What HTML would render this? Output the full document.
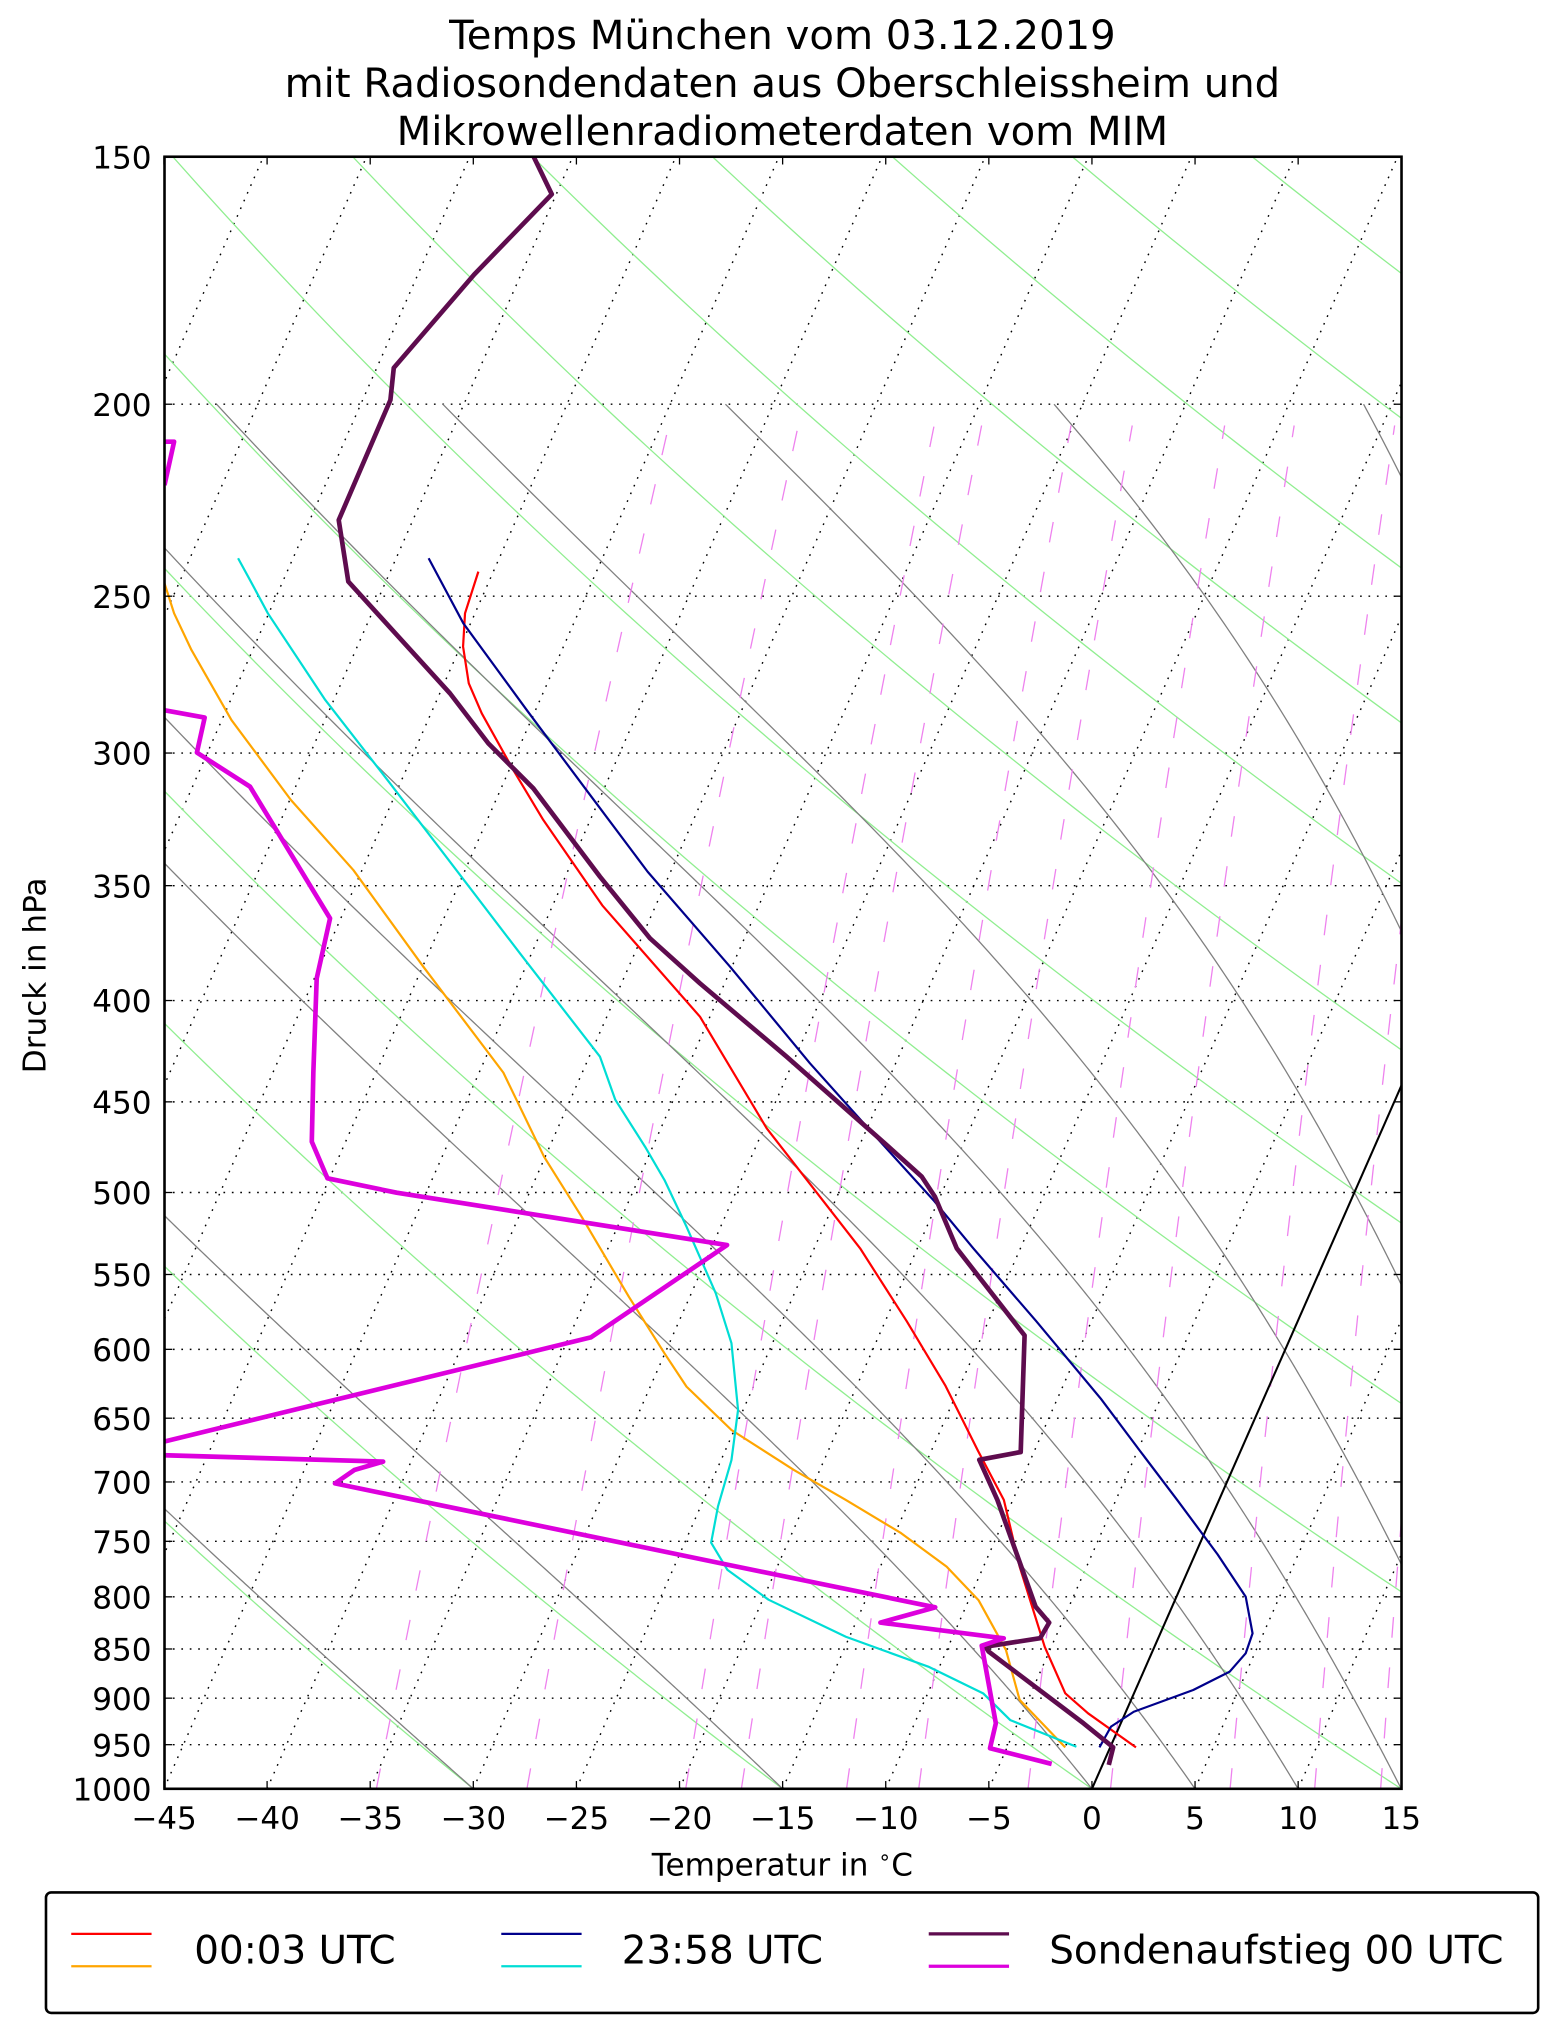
<!DOCTYPE html>
<html><head><meta charset="utf-8">
<style>
html,body{margin:0;padding:0;background:#fff;}
svg{display:block;}
text{font-family:"DejaVu Sans","Liberation Sans",sans-serif;fill:#000;}
</style></head>
<body>
<svg id="s" width="1542" height="2032" viewBox="0 0 1190.45 1568.75" xmlns="http://www.w3.org/2000/svg">
<defs><clipPath id="c"><rect x="127" y="121" width="955" height="1260"/></clipPath></defs>
<rect width="1190.45" height="1568.75" fill="#fff"/>
<g id="bg" clip-path="url(#c)"></g>
<g clip-path="url(#c)" fill="none" stroke-linejoin="round" stroke-linecap="butt">
<line x1="843" y1="1381" x2="1100" y2="797" stroke="#000" stroke-width="1.6"/>
<polyline stroke="#ffa500" stroke-width="1.7" points="120,440 127,450.3 134.4,473.5 147.8,501.8 178.7,555.9 224.6,617.6 272.8,671.7 326.8,746.3 388.6,828.1 420,893 449,939.3 485.4,1001 513,1044.8 530,1070.5 564.7,1104 613,1134.9 653,1158 695.6,1183.6 730.8,1209.5 755.4,1235.3 776.6,1273.8 787.2,1312.4 822.4,1349"/>
<polyline stroke="#00ddd5" stroke-width="1.7" points="183.8,431 193,447.8 206.8,473.5 251.1,540.4 301.1,604.7 401.4,736 463.2,815.8 475,849 498,885.3 513,911 530,947 552.6,998.5 564.7,1037 569.8,1088.5 564.7,1127.2 554.3,1163 549,1191 561.6,1212 593.3,1235 653,1263.6 716.7,1286.7 759,1307.3 780,1328 831,1348.5"/>
<polyline stroke="#ff0000" stroke-width="1.7" points="369.3,441.3 359,473.5 357.5,499.2 361.9,527.5 371.9,550.7 396.3,594.5 419.4,633 465,699 540.4,784.9 591.9,871.1 664,963.7 700,1020 730,1070 755,1120 775,1158 787.2,1209.5 806.5,1271.3 822.4,1307.3 840,1322.7 877,1349"/>
<polyline stroke="#00008b" stroke-width="1.7" points="330.9,431 357.7,481.2 406.6,548.1 452,609 500,673 563.6,746.3 625.3,820.9 669.1,869.8 720.5,926.4 751.4,963.7 800,1020 850,1080 880,1120 908.8,1158 940,1200 961.7,1232.7 967,1261 961.7,1276.4 949.4,1290.5 921.2,1304.7 875.3,1321.5 857.7,1333 848.8,1349"/>
<polyline stroke="#5e0c4e" stroke-width="3.6" points="412,121 426,150 366,212 304,284 301.4,308.8 261.5,401.5 268.9,449 347.4,535.3 377,573.9 411.7,608.6 463.2,676.8 501.8,724.4 540.4,759.2 607.3,815.8 684.5,884 711.6,908.4 721.8,923.9 738.6,963.7 791,1031 788,1121 756,1127 770,1158 799.5,1240.4 810,1252.7 803,1264.7 760.8,1271.3 763.2,1275 836.6,1330.5 859.4,1349 856,1362.6"/>
<polyline stroke="#dd00dd" stroke-width="3.6" points="127,341 134.4,341 127,374.5"/>
<polyline stroke="#dd00dd" stroke-width="3.6" points="120,547 158,554 152,581 193,607.3 254.8,709 244.5,755.3 241.9,828.1 240.7,881.4 252.8,909.7 306.2,920.8 561.3,961.2 456.1,1032.5 110,1117"/>
<polyline stroke="#dd00dd" stroke-width="3.6" points="110,1123 295.8,1128.4 273.5,1134.9 258.6,1145.2 540.4,1203.6 722,1240.9 679.7,1252.7 774.9,1264.8 757.9,1270.5 768.8,1330.4 764.3,1349.7 811.9,1361.8"/>
</g>
<rect x="127" y="121" width="955" height="1260" fill="none" stroke="#000" stroke-width="2"/>
<g id="ticks" stroke="#000" stroke-width="1"></g>
<g font-size="31" text-anchor="middle">
<text x="604" y="38">Temps München vom 03.12.2019</text>
<text x="604" y="75">mit Radiosondendaten aus Oberschleissheim und</text>
<text x="604" y="112">Mikrowellenradiometerdaten vom MIM</text>
</g>
<g id="lab" font-size="24"></g>
<text x="604" y="1448" font-size="24" text-anchor="middle">Temperatur in <tspan font-size="16" dy="-9">∘</tspan><tspan dy="9">C</tspan></text>
<text transform="translate(35,753) rotate(-90)" font-size="24" text-anchor="middle">Druck in hPa</text>
<rect x="35.5" y="1461" width="1152" height="93" rx="4" fill="#fff" stroke="#000" stroke-width="2"/>
<g stroke-width="1.7">
<line x1="55" y1="1493" x2="117" y2="1493" stroke="#ff0000"/>
<line x1="55" y1="1518" x2="117" y2="1518" stroke="#ffa500"/>
<line x1="387" y1="1493" x2="449" y2="1493" stroke="#00008b"/>
<line x1="387" y1="1518" x2="449" y2="1518" stroke="#00ddd5"/>
<line x1="717" y1="1493" x2="779" y2="1493" stroke="#5e0c4e" stroke-width="2.5"/>
<line x1="717" y1="1518" x2="779" y2="1518" stroke="#dd00dd" stroke-width="2.5"/>
</g>
<g font-size="30">
<text x="150" y="1516">00:03 UTC</text>
<text x="480" y="1516">23:58 UTC</text>
<text x="810" y="1516">Sondenaufstieg 00 UTC</text>
</g>
</svg>
<script>
(function(){
var NS="http://www.w3.org/2000/svg";
var X0=843,K=15.92,S=0.44,YB=1381,YT=121,L=Math.log(1000/150);
function yP(p){return YT+1260*Math.log(p/150)/L;}
function xT(T,y){return X0+K*T+S*(YB-y);}
var bg=document.getElementById('bg');
function pl(pts,attrs,parent){var e=document.createElementNS(NS,'polyline');e.setAttribute('points',pts.map(function(a){return a[0].toFixed(2)+','+a[1].toFixed(2)}).join(' '));e.setAttribute('fill','none');for(var k in attrs)e.setAttribute(k,attrs[k]);(parent||bg).appendChild(e);}
for(var T=-130;T<=15;T+=5){pl([[xT(T,YB),YB],[xT(T,YT),YT]],{stroke:'#000','stroke-width':1.1,'stroke-dasharray':'1.3 5.2'});}
for(var p=200;p<1000;p+=50){var y=yP(p);pl([[127,y],[1082,y]],{stroke:'#000','stroke-width':1.1,'stroke-dasharray':'1.3 5.2'});}
for(var T0=-90;T0<=180;T0+=15){var th=T0+273.15,pts=[];for(var p=1000;p>=145;p-=5){var t=th*Math.pow(p/1000,0.2857)-273.15;var y=yP(p);pts.push([xT(t,y),y]);}pl(pts,{stroke:'#90ee90','stroke-width':1});}
function es(Tc){return 6.112*Math.exp(17.67*Tc/(Tc+243.5));}
var Rd=287.04,Cp=1005.7,Lv=2.501e6,eps=0.622;
[-45,-30,-15,0,5,10,15,20,25,30,35,40].forEach(function(T0){var T=T0+273.15,pts=[],p=1000;pts.push([xT(T0,yP(1000)),yP(1000)]);
while(p>200){var dp=-2;var e=es(T-273.15);var rs=eps*e/(p-e);var dTdp=(Rd*T+Lv*rs)/(p*(Cp+Lv*Lv*rs*eps/(Rd*T*T)));T+=dTdp*dp;p+=dp;var y=yP(p);pts.push([xT(T-273.15,y),y]);}
pl(pts,{stroke:'#808080','stroke-width':1});});
[-34.7,-27.4,-19.7,-17.0,-11.9,-8.4,-3.1,0.9,6.7,10.8,14.0].forEach(function(T0){var e0=es(T0),w=eps*e0/(1000-e0),pts=[];for(var p=1000;p>=205;p-=15){var e=w*p/(eps+w);var l=Math.log(e/6.112);var td=243.5*l/(17.67-l);var y=yP(p);pts.push([xT(td,y),y]);}
pl(pts,{stroke:'#ee82ee','stroke-width':1,'stroke-dasharray':'16 23'});});
var tk=document.getElementById('ticks'),lab=document.getElementById('lab');
function ln(x1,y1,x2,y2){var e=document.createElementNS(NS,'line');e.setAttribute('x1',x1);e.setAttribute('y1',y1);e.setAttribute('x2',x2);e.setAttribute('y2',y2);tk.appendChild(e);}
function tx(x,y,s,anc){var e=document.createElementNS(NS,'text');e.setAttribute('x',x);e.setAttribute('y',y);e.setAttribute('text-anchor',anc);e.textContent=s;lab.appendChild(e);}
for(var T=-45;T<=15;T+=5){var x=X0+K*T;ln(x,YB,x,YB-6);ln(x,YT,x,YT+6);tx(x,1412,(T<0?'\u2212'+(-T):''+T),'middle');}
[150,200,250,300,350,400,450,500,550,600,650,700,750,800,850,900,950,1000].forEach(function(p){var y=yP(p);ln(127,y,133,y);ln(1082,y,1076,y);tx(117,y+9,''+p,'end');});
})();
</script>
</body></html>
